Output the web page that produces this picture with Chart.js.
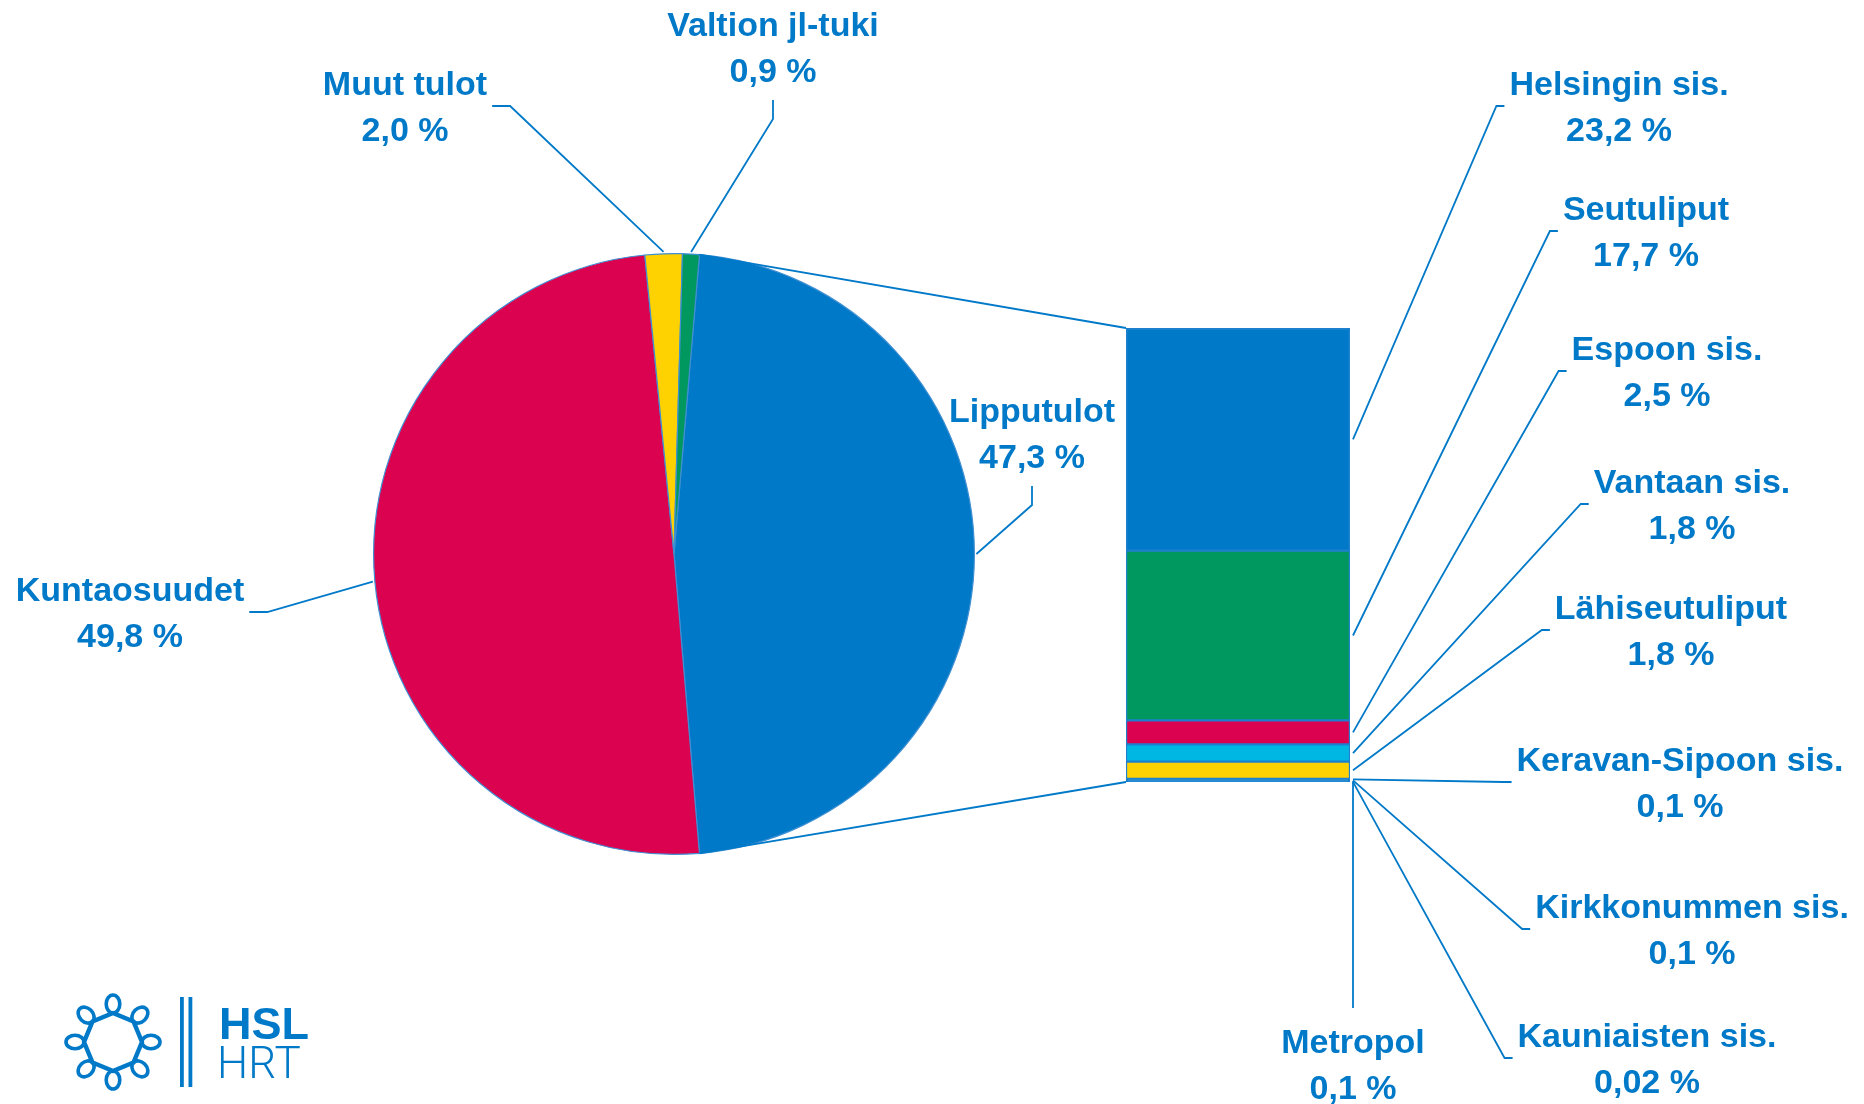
<!DOCTYPE html>
<html>
<head>
<meta charset="utf-8">
<script src="https://cdn.jsdelivr.net/npm/chart.js@4.4.1/dist/chart.umd.min.js"></script>
<style>
    body { margin: 0; background: #fff; }
    #wrap { position: relative; width: 1864px; height: 1104px; }
    #wrap canvas { position: absolute; left: 0; top: 0; }
</style>
</head>
<body>
<div id="wrap">
    <canvas id="pieChart" width="1864" height="1104"></canvas>
    <canvas id="barChart" width="1864" height="1104"></canvas>
</div>
<script>
// pie: revenue split
var pieLabels = ["Lipputulot", "Kuntaosuudet", "Muut tulot", "Valtion jl-tuki"];
var pieValues = [47.3, 49.8, 2.0, 0.9];
var pieColors = ["#0079C8", "#DB024F", "#FED100", "#00985F"];

// bar: ticket revenue broken down
var barLabels = ["Helsingin sis.", "Seutuliput", "Espoon sis.", "Vantaan sis.", "Lähiseutuliput",
    "Keravan-Sipoon sis.", "Kirkkonummen sis.", "Metropol", "Kauniaisten sis."];
var barValues = [23.2, 17.7, 2.5, 1.8, 1.8, 0.1, 0.1, 0.1, 0.02];
var barColors = ["#0079C8", "#00985F", "#DB024F", "#00B7E3", "#FED100", "#0079C8", "#0079C8", "#0079C8", "#0079C8"];

// label placement: [center x, first line y, side where the leader line attaches]
var pieLabelPos = [[1032, 410, "bottom"], [130, 589, "right"], [405, 83, "right"], [773, 24, "bottom"]];
var barLabelPos = [[1619, 83, "left"], [1646, 208, "left"], [1667, 348, "left"], [1692, 481, "left"],
    [1671, 607, "left"], [1680, 759, "left"], [1692, 906, "left"], [1353, 1041, "top"], [1647, 1035, "left"]];

var BLUE = "#0079C8";
var FONT = "bold 34px 'Liberation Sans', Arial, sans-serif";
var LINE_GAP = 46;
var TEXT_SHIFT = 3;

function sum(arr) {
    var s = 0;
    for (var i = 0; i < arr.length; i++) s += arr[i];
    return s;
}

function pct(v) {
    return (v < 0.05 ? v.toFixed(2) : v.toFixed(1)).replace(".", ",") + " %";
}

//-------------
//- PIE CHART -
//-------------
var pieTotal = sum(pieValues);
var pieChart = new Chart(document.getElementById("pieChart"), {
    type: "pie",
    data: {
        labels: pieLabels,
        datasets: [{
            data: pieValues,
            backgroundColor: pieColors,
            borderColor: "#3f8fd2",
            borderWidth: 1.2
        }]
    },
    options: {
        responsive: false,
        animation: false,
        // split slice faces the bar
        rotation: 90 - pieValues[0] / pieTotal * 180,
        layout: { padding: { left: 373, right: 889, top: 253, bottom: 249 } },
        plugins: { legend: { display: false }, tooltip: { enabled: false } }
    }
});

// draws a two line label and its leader line
function drawLabel(ctx, title, value, pos, sx, sy) {
    var cx = pos[0], cy = pos[1], side = pos[2];
    ctx.font = FONT;
    ctx.fillStyle = BLUE;
    ctx.textAlign = "center";
    ctx.textBaseline = "middle";
    ctx.fillText(title, cx, cy + TEXT_SHIFT);
    ctx.fillText(pct(value), cx, cy + LINE_GAP + TEXT_SHIFT);
    var w = Math.max(ctx.measureText(title).width, ctx.measureText(pct(value)).width);
    var mid = cy + LINE_GAP / 2;
    var elbow, end;
    if (side == "left") {
        end = [cx - w / 2 - 5, mid];
        elbow = [cx - w / 2 - 13, mid];
    } else if (side == "right") {
        end = [cx + w / 2 + 5, mid];
        elbow = [cx + w / 2 + 23, mid];
    } else if (side == "bottom") {
        end = [cx, cy + LINE_GAP + 30];
        elbow = [cx, cy + LINE_GAP + 49];
    } else {
        end = [cx, cy - 33];
        elbow = end;
    }
    ctx.beginPath();
    ctx.moveTo(sx, sy);
    ctx.lineTo(elbow[0], elbow[1]);
    ctx.lineTo(end[0], end[1]);
    ctx.stroke();
}

function drawLogo(ctx) {
    var cx = 113, cy = 1042;
    ctx.save();
    ctx.strokeStyle = BLUE;
    ctx.fillStyle = BLUE;
    ctx.lineWidth = 4.5;
    ctx.lineJoin = "round";
    ctx.beginPath();
    for (var k = 0; k < 8; k++) {
        var a = -Math.PI / 2 + k * Math.PI / 4;
        var px = cx + Math.cos(a) * 29, py = cy + Math.sin(a) * 29;
        if (k == 0) ctx.moveTo(px, py); else ctx.lineTo(px, py);
    }
    ctx.closePath();
    ctx.stroke();
    ctx.lineWidth = 3.6;
    for (var k = 0; k < 8; k++) {
        var a = -Math.PI / 2 + k * Math.PI / 4;
        ctx.beginPath();
        ctx.ellipse(cx + Math.cos(a) * 38, cy + Math.sin(a) * 38, 9, 6.8, a, 0, Math.PI * 2);
        ctx.stroke();
    }
    ctx.fillRect(180, 997, 3.8, 90);
    ctx.fillRect(188.5, 997, 3.8, 90);
    ctx.textAlign = "left";
    ctx.textBaseline = "alphabetic";
    ctx.font = "bold 45px 'Liberation Sans', Arial, sans-serif";
    ctx.fillText("HSL", 219, 1039);
    ctx.font = "300 44px Roboto, 'Liberation Sans', sans-serif";
    ctx.fillText("HRT", 217, 1078);
    ctx.restore();
}

var overlay = {
    id: "overlay",
    afterDraw: function(chart) {
        var ctx = chart.ctx;
        var area = chart.chartArea;
        var arcs = pieChart.getDatasetMeta(0).data;
        ctx.save();
        ctx.strokeStyle = BLUE;
        ctx.lineWidth = 1.8;

        // series lines from the split slice to the bar
        var blue = arcs[0];
        var r = blue.outerRadius;
        ctx.beginPath();
        ctx.moveTo(blue.x + Math.cos(blue.startAngle) * r, blue.y + Math.sin(blue.startAngle) * r);
        ctx.lineTo(area.left, area.top);
        ctx.moveTo(blue.x + Math.cos(blue.endAngle) * r, blue.y + Math.sin(blue.endAngle) * r);
        ctx.lineTo(area.left, area.bottom);
        ctx.stroke();

        // pie labels
        for (var i = 0; i < arcs.length; i++) {
            var arc = arcs[i];
            var m = (arc.startAngle + arc.endAngle) / 2;
            var sx = arc.x + Math.cos(m) * (arc.outerRadius + 2);
            var sy = arc.y + Math.sin(m) * (arc.outerRadius + 2);
            drawLabel(ctx, pieLabels[i], pieValues[i], pieLabelPos[i], sx, sy);
        }

        // bar labels
        for (var i = 0; i < barValues.length; i++) {
            var el = chart.getDatasetMeta(i).data[0];
            var sx = el.x + el.width / 2 + 3;
            var sy = Math.min((el.y + el.base) / 2, area.bottom);
            drawLabel(ctx, barLabels[i], barValues[i], barLabelPos[i], sx, sy);
        }
        ctx.restore();
        drawLogo(ctx);
    }
};

//-------------
//- BAR CHART -
//-------------
var barDatasets = [];
for (var i = 0; i < barValues.length; i++) {
    barDatasets.push({
        label: barLabels[i],
        data: [barValues[i]],
        backgroundColor: barColors[i],
        borderColor: "#1f7fcf",
        borderWidth: 1.5,
        borderSkipped: false,
        barPercentage: 1,
        categoryPercentage: 1
    });
}
var barChart = new Chart(document.getElementById("barChart"), {
    type: "bar",
    data: { labels: [""], datasets: barDatasets },
    options: {
        responsive: false,
        animation: false,
        layout: { padding: { left: 1126, right: 514, top: 328, bottom: 322 } },
        scales: {
            x: { stacked: true, display: false },
            y: { stacked: true, display: false, reverse: true, min: 0, max: sum(barValues) }
        },
        plugins: { legend: { display: false }, tooltip: { enabled: false } }
    },
    plugins: [overlay]
});
</script>
</body>
</html>
